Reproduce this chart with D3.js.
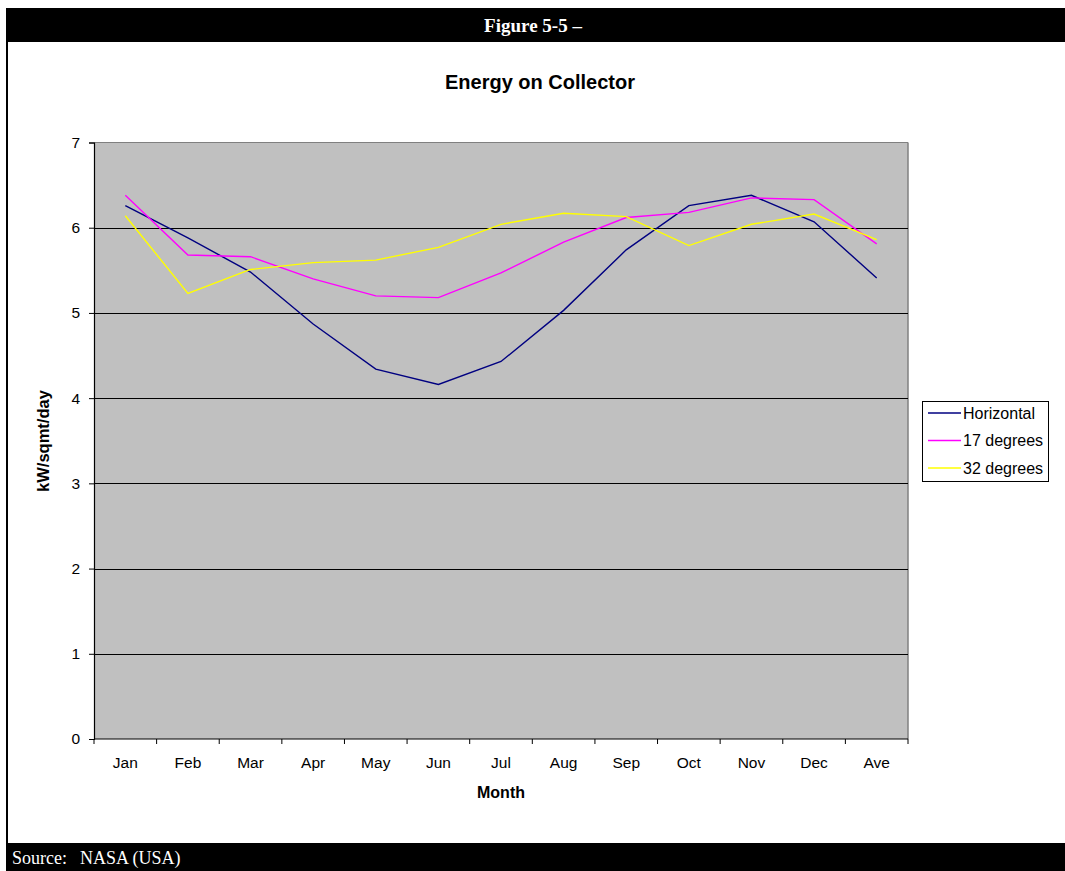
<!DOCTYPE html>
<html>
<head>
<meta charset="utf-8">
<script src="https://cdn.jsdelivr.net/npm/d3@7"></script>
<style>
  html, body { margin: 0; padding: 0; background: #fff; }
  svg { display: block; }
</style>
</head>
<body>
<svg id="chart" width="1065" height="871"></svg>
<script>
const months = ["Jan","Feb","Mar","Apr","May","Jun","Jul","Aug","Sep","Oct","Nov","Dec","Ave"];
const horizontal = [6.26, 5.88, 5.48, 4.87, 4.34, 4.16, 4.43, 5.03, 5.74, 6.26, 6.38, 6.07, 5.41];
const deg17      = [6.38, 5.68, 5.66, 5.40, 5.20, 5.18, 5.47, 5.83, 6.12, 6.18, 6.35, 6.33, 5.81];
const deg32      = [6.14, 5.23, 5.51, 5.59, 5.62, 5.77, 6.04, 6.17, 6.13, 5.79, 6.04, 6.16, 5.86];
const seriesNames = ["Horizontal", "17 degrees", "32 degrees"];
const seriesColors = ["#000080", "#FF00FF", "#FFFF00"];
const yTicks = [0, 1, 2, 3, 4, 5, 6, 7];

const series = [horizontal, deg17, deg32].map((vals, i) => ({
  name: seriesNames[i], color: seriesColors[i], values: vals
}));

const svg = d3.select("#chart");
const W = 1065, H = 871;
const serif = "'Liberation Serif', 'Times New Roman', serif";

// Frame: top bar, bottom bar, left border
svg.append("rect").attr("x", 6).attr("y", 8).attr("width", W - 6).attr("height", 34).attr("fill", "#000");
svg.append("rect").attr("x", 6).attr("y", 843).attr("width", W - 6).attr("height", 28).attr("fill", "#000");
svg.append("rect").attr("x", 6).attr("y", 8).attr("width", 2).attr("height", 835).attr("fill", "#000");

svg.append("text").attr("x", 533).attr("y", 32).attr("text-anchor", "middle")
  .attr("fill", "#fff").attr("font-family", serif)
  .attr("font-weight", "bold").attr("font-size", 19).text("Figure 5-5 –");

svg.append("text").attr("x", 12).attr("y", 864)
  .attr("fill", "#fff").attr("font-family", serif)
  .attr("font-size", 18).text("Source:");
svg.append("text").attr("x", 80).attr("y", 864)
  .attr("fill", "#fff").attr("font-family", serif)
  .attr("font-size", 18).text("NASA (USA)");

// Plot area
const pLeft = 94, pRight = 908, pTop = 142.5, pBottom = 739;
const x = d3.scaleBand().domain(months).range([pLeft, pRight]).padding(0);
const y = d3.scaleLinear().domain([0, 7]).range([pBottom, pTop]);

const font = "'Liberation Sans', Arial, sans-serif";

svg.append("rect").attr("x", pLeft).attr("y", pTop).attr("width", pRight - pLeft).attr("height", pBottom - pTop)
  .attr("fill", "#C0C0C0");

// top & right border in grey
svg.append("line").attr("x1", pLeft).attr("x2", pRight).attr("y1", pTop).attr("y2", pTop)
  .attr("stroke", "#808080").attr("stroke-width", 1);
svg.append("line").attr("x1", pRight).attr("x2", pRight).attr("y1", pTop).attr("y2", pBottom)
  .attr("stroke", "#808080").attr("stroke-width", 1.5);

// gridlines
svg.append("g").selectAll("line").data(yTicks.filter(d => d > 0 && d < 7)).join("line")
  .attr("x1", pLeft).attr("x2", pRight)
  .attr("y1", d => Math.round(y(d)) + 0.5).attr("y2", d => Math.round(y(d)) + 0.5)
  .attr("stroke", "#000").attr("stroke-width", 1);

// y axis
const yAxis = d3.axisLeft(y).tickValues(yTicks).tickSize(5).tickPadding(9).tickFormat(d3.format("d"));
const gy = svg.append("g").attr("transform", `translate(${pLeft},0)`).call(yAxis);
gy.select(".domain").attr("stroke", "#000").attr("stroke-width", 1.2);
gy.selectAll(".tick line").attr("stroke", "#000");
gy.selectAll(".tick text").attr("font-family", font).attr("font-size", 15.5).attr("fill", "#000");

// x axis: ticks at category boundaries
const boundaries = d3.range(months.length + 1).map(i => pLeft + i * x.bandwidth());
const gx = svg.append("g");
gx.append("line").attr("x1", pLeft).attr("x2", pRight).attr("y1", pBottom).attr("y2", pBottom)
  .attr("stroke", "#000").attr("stroke-width", 1.2);
gx.selectAll("line.tk").data(boundaries).join("line").attr("class", "tk")
  .attr("x1", d => d).attr("x2", d => d).attr("y1", pBottom).attr("y2", pBottom + 5)
  .attr("stroke", "#000");
gx.selectAll("text").data(months).join("text")
  .attr("x", d => x(d) + x.bandwidth() / 2).attr("y", 768)
  .attr("text-anchor", "middle").attr("font-family", font).attr("font-size", 15.5).attr("fill", "#000")
  .text(d => d);

// Axis titles
svg.append("text").attr("x", 501).attr("y", 798).attr("text-anchor", "middle")
  .attr("font-family", font).attr("font-weight", "bold").attr("font-size", 16).text("Month");
svg.append("text").attr("transform", `translate(49,441) rotate(-90)`).attr("text-anchor", "middle")
  .attr("font-family", font).attr("font-weight", "bold").attr("font-size", 16.5).text("kW/sqmt/day");

// Chart title
svg.append("text").attr("x", 540).attr("y", 89).attr("text-anchor", "middle")
  .attr("font-family", font).attr("font-weight", "bold").attr("font-size", 20).text("Energy on Collector");

// Lines
const line = d3.line().x((d, i) => x(months[i]) + x.bandwidth() / 2).y(d => y(d));
svg.append("g").selectAll("path").data(series).join("path")
  .attr("d", d => line(d.values))
  .attr("fill", "none").attr("stroke", d => d.color).attr("stroke-width", 1.4);

// Legend
const lg = svg.append("g");
lg.append("rect").attr("x", 922.5).attr("y", 401.5).attr("width", 126).attr("height", 80)
  .attr("fill", "#fff").attr("stroke", "#000").attr("stroke-width", 1);
const rows = lg.selectAll("g").data(series).join("g")
  .attr("transform", (d, i) => `translate(0,${413 + i * 27.5})`);
rows.append("line").attr("x1", 928).attr("x2", 961).attr("y1", 0).attr("y2", 0)
  .attr("stroke", d => d.color).attr("stroke-width", 1.4);
rows.append("text").attr("x", 963).attr("y", 5.5).attr("font-family", font).attr("font-size", 16)
  .text(d => d.name);
</script>
</body>
</html>
